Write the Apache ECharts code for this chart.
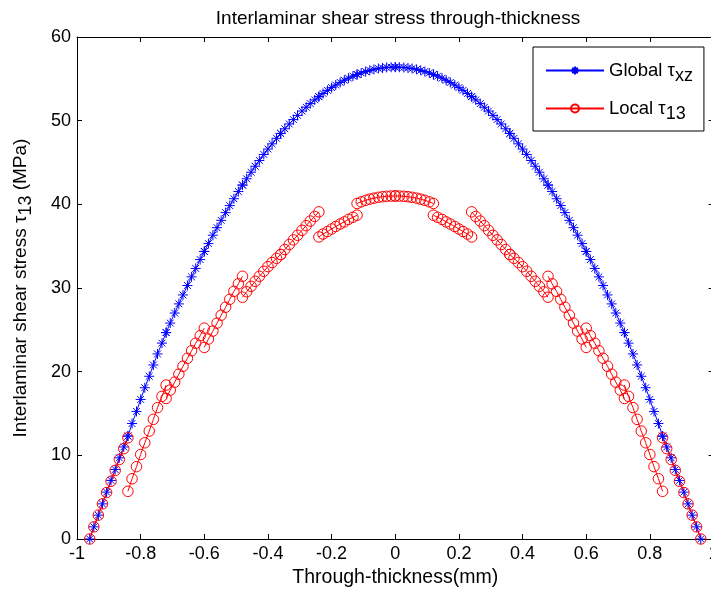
<!DOCTYPE html>
<html><head><meta charset="utf-8">
<script src="https://cdn.jsdelivr.net/npm/echarts@6/dist/echarts.min.js"></script>
<style>html,body{margin:0;padding:0;background:#fff}#c{width:711px;height:592px}</style>
</head><body><div id="c"></div><script>
// Through-thickness positions (mm), 16 plies x 10 samples
const xs=[
-0.96,-0.947,-0.933,-0.92,-0.907,-0.893,-0.88,-0.867,-0.853,-0.84,
-0.84,-0.827,-0.813,-0.8,-0.787,-0.773,-0.76,-0.747,-0.733,-0.72,
-0.72,-0.707,-0.693,-0.68,-0.667,-0.653,-0.64,-0.627,-0.613,-0.6,
-0.6,-0.587,-0.573,-0.56,-0.547,-0.533,-0.52,-0.507,-0.493,-0.48,
-0.48,-0.467,-0.453,-0.44,-0.427,-0.413,-0.4,-0.387,-0.373,-0.36,
-0.36,-0.347,-0.333,-0.32,-0.307,-0.293,-0.28,-0.267,-0.253,-0.24,
-0.24,-0.227,-0.213,-0.2,-0.187,-0.173,-0.16,-0.147,-0.133,-0.12,
-0.12,-0.107,-0.093,-0.08,-0.067,-0.053,-0.04,-0.027,-0.013,0,
0,0.013,0.027,0.04,0.053,0.067,0.08,0.093,0.107,0.12,
0.12,0.133,0.147,0.16,0.173,0.187,0.2,0.213,0.227,0.24,
0.24,0.253,0.267,0.28,0.293,0.307,0.32,0.333,0.347,0.36,
0.36,0.373,0.387,0.4,0.413,0.427,0.44,0.453,0.467,0.48,
0.48,0.493,0.507,0.52,0.533,0.547,0.56,0.573,0.587,0.6,
0.6,0.613,0.627,0.64,0.653,0.667,0.68,0.693,0.707,0.72,
0.72,0.733,0.747,0.76,0.773,0.787,0.8,0.813,0.827,0.84,
0.84,0.853,0.867,0.88,0.893,0.907,0.92,0.933,0.947,0.96];
// Global tau_xz (MPa)
const globalVals=[
0,1.45,2.85,4.2,5.6,7.0,8.3,9.7,11.0,12.3,
12.3,13.8,15.25,16.68,18.08,19.45,20.8,22.12,23.41,24.67,
24.67,25.81,27.01,28.1,29.17,30.3,31.33,32.34,33.4,34.37,
34.37,35.31,36.31,37.21,38.09,39.01,39.85,40.67,41.53,42.3,
42.3,43.05,43.84,44.55,45.24,45.96,46.61,47.23,47.89,48.47,
48.47,49.03,49.61,50.13,50.63,51.15,51.6,52.04,52.48,52.87,
52.87,53.25,53.62,53.95,54.26,54.57,54.83,55.08,55.32,55.52,
55.52,55.7,55.87,56.01,56.13,56.23,56.3,56.36,56.39,56.4,
56.4,56.39,56.36,56.3,56.23,56.13,56.01,55.87,55.7,55.52,
55.52,55.32,55.08,54.83,54.57,54.26,53.95,53.62,53.25,52.87,
52.87,52.48,52.04,51.6,51.15,50.63,50.13,49.61,49.03,48.47,
48.47,47.89,47.23,46.61,45.96,45.24,44.55,43.84,43.05,42.3,
42.3,41.53,40.67,39.85,39.01,38.09,37.21,36.31,35.31,34.37,
34.37,33.4,32.34,31.33,30.3,29.17,28.1,27.01,25.81,24.67,
24.67,23.41,22.12,20.8,19.45,18.08,16.68,15.25,13.8,12.3,
12.3,11.0,9.7,8.3,7.0,5.6,4.2,2.85,1.45,0];
// Local tau_13 (MPa)
const localVals=[
0,1.45,2.85,4.2,5.55,6.9,8.2,9.5,10.8,12.1,
5.7,7.2,8.65,10.1,11.5,12.9,14.3,15.7,17.05,18.4,
16.8,17.8,18.75,19.7,20.65,21.6,22.5,23.4,24.3,25.2,
22.9,23.9,24.85,25.8,26.75,27.7,28.65,29.6,30.5,31.4,
28.9,29.55,30.2,30.8,31.4,32.0,32.55,33.05,33.55,34.0,
34.0,34.6,35.2,35.75,36.3,36.9,37.45,38.0,38.55,39.1,
36.1,36.45,36.75,37.05,37.35,37.65,37.9,38.2,38.45,38.7,
40.1,40.3,40.48,40.62,40.74,40.84,40.91,40.96,40.99,41.0,
41.0,40.99,40.96,40.91,40.84,40.74,40.62,40.48,40.3,40.1,
38.7,38.45,38.2,37.9,37.65,37.35,37.05,36.75,36.45,36.1,
39.1,38.55,38.0,37.45,36.9,36.3,35.75,35.2,34.6,34.0,
34.0,33.55,33.05,32.55,32.0,31.4,30.8,30.2,29.55,28.9,
31.4,30.5,29.6,28.65,27.7,26.75,25.8,24.85,23.9,22.9,
25.2,24.3,23.4,22.5,21.6,20.65,19.7,18.75,17.8,16.8,
18.4,17.05,15.7,14.3,12.9,11.5,10.1,8.65,7.2,5.7,
12.1,10.8,9.5,8.2,6.9,5.55,4.2,2.85,1.45,0];
const samplesPerPly=10;
const seriesNames=['Global τxz','Local τ13'];
const legendRich={'Global τxz':'{a|Global τ}{s|xz}','Local τ13':'{a|Local τ}{s|13}'};

// build series data; local curve is broken at each ply interface
function plyData(vals,breakAtPly){
  const out=[];
  xs.forEach((x,i)=>{
    if(breakAtPly && i>0 && i%samplesPerPly===0) out.push('-');
    out.push([x,vals[i]]);
  });
  return out;
}

const FONT='"Liberation Sans", Arial, Helvetica, sans-serif';
const star='path://M0,5L10,5M5,0L5,10M1.6,1.6L8.4,8.4M8.4,1.6L1.6,8.4';
const chart=echarts.init(document.getElementById('c'));
const axisCommon={
  axisLine:{show:true,onZero:false,lineStyle:{color:'#000',width:1}},
  axisTick:{show:true,inside:true,length:5,lineStyle:{color:'#000',width:1}},
  splitLine:{show:false}
};
const richLegend={
  a:{fontFamily:FONT,fontSize:18.5,color:'#000'},
  s:{fontFamily:FONT,fontSize:18,color:'#000',padding:[11,0,0,0]}
};
const richY={
  a:{fontFamily:FONT,fontSize:19,color:'#000'},
  s:{fontFamily:FONT,fontSize:18,color:'#000',padding:[10,0,0,0]}
};
chart.setOption({
  animation:false,
  backgroundColor:'#fff',
  title:{text:'Interlaminar shear stress through-thickness',left:393,top:4,textAlign:'center',
    textStyle:{fontFamily:FONT,fontSize:19,fontWeight:'normal',color:'#000'}},
  grid:{left:77,right:-2.5,top:37,bottom:53,outerBoundsMode:'none',containLabel:false},
  legend:{orient:'vertical',left:533,top:47,padding:[14,11,8,12],itemGap:14,
    itemWidth:58,itemHeight:10,backgroundColor:'#fff',borderColor:'#000',borderWidth:1,borderRadius:0,
    data:seriesNames,formatter:n=>legendRich[n],
    textStyle:{fontFamily:FONT,fontSize:18.5,color:'#000',rich:richLegend}},
  xAxis:[
    Object.assign({type:'value',min:-1,max:1,interval:0.2,position:'bottom',
      axisLabel:{fontFamily:FONT,fontSize:18,color:'#000',margin:6},
      name:'Through-thickness(mm)',nameLocation:'middle',nameGap:28,
      nameTextStyle:{fontFamily:FONT,fontSize:19.5,color:'#000'}},axisCommon),
    Object.assign({type:'value',min:-1,max:1,interval:0.2,position:'top',
      axisLabel:{show:false}},axisCommon)
  ],
  yAxis:[
    Object.assign({type:'value',min:0,max:60,interval:10,position:'left',
      axisLabel:{fontFamily:FONT,fontSize:18,color:'#000',margin:6},
      name:'{a|Interlaminar shear stress τ}{s|13}{a| (MPa)}',nameLocation:'middle',nameRotate:90,nameGap:42,
      nameTextStyle:{fontFamily:FONT,fontSize:19,color:'#000',rich:richY}},axisCommon),
    Object.assign({type:'value',min:0,max:60,interval:10,position:'right',
      axisLabel:{show:false}},axisCommon)
  ],
  series:[
    {type:'line',name:seriesNames[0],data:plyData(globalVals,false),
     symbol:star,symbolSize:10,showSymbol:true,
     itemStyle:{color:'rgba(0,0,0,0)',borderColor:'#0000ff',borderWidth:1},
     lineStyle:{color:'#0000ff',width:1}},
    {type:'line',name:seriesNames[1],data:plyData(localVals,true),connectNulls:false,
     symbol:'circle',symbolSize:10.5,showSymbol:true,
     itemStyle:{color:'rgba(0,0,0,0)',borderColor:'#ff0000',borderWidth:1},
     lineStyle:{color:'#ff0000',width:1}}
  ]
});
</script></body></html>
